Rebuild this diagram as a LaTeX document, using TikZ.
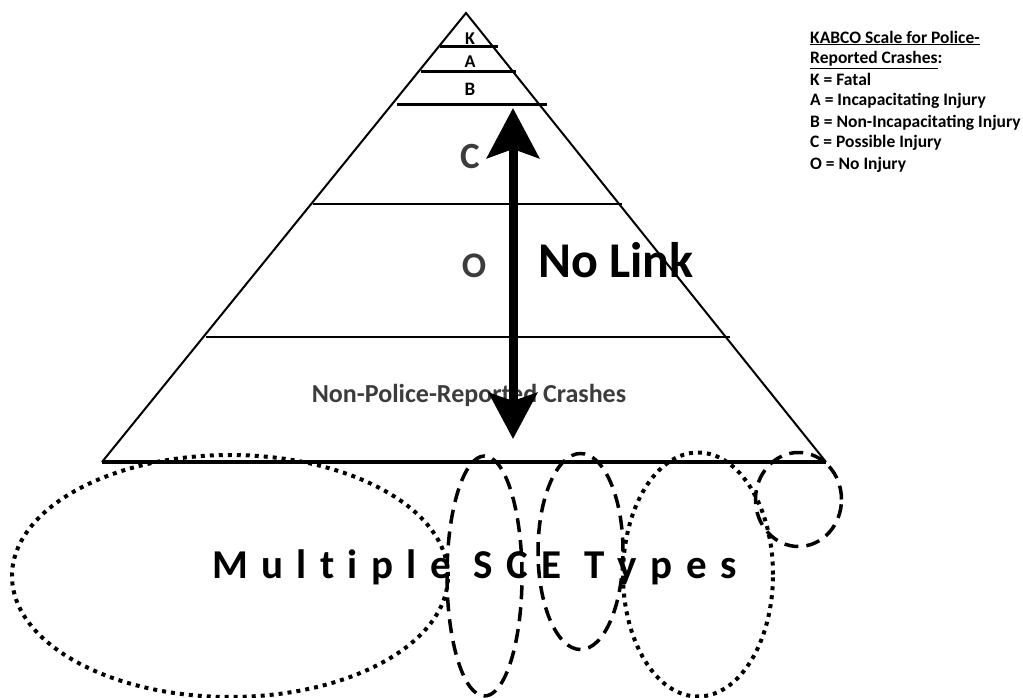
\documentclass[tikz,border=0pt]{standalone}
\usepackage{fontspec}
\setmainfont{Carlito}
\usetikzlibrary{arrows.meta}
\definecolor{txtgray}{HTML}{3C3C3C}
\newcommand{\lsp}{\hspace{13.4pt}}
\begin{document}
\begin{tikzpicture}[x=1pt,y=-1pt,
  side/.style={line width=2pt, line join=miter},
  bandline/.style={line width=3pt},
  thinband/.style={line width=2.4pt},
  baseline/.style={line width=4pt},
  dotline/.style={line width=4pt, dash pattern=on 4pt off 5pt},
  dashline/.style={line width=3.5pt, dash pattern=on 14pt off 8pt},
  lbl/.style={inner sep=0pt, font=\bfseries},
  graylbl/.style={lbl, text=txtgray},
  linkarrow/.style={line width=9pt, {Stealth[length=50pt,width=52pt,inset=9pt]}-{Stealth[length=46pt,width=48pt,inset=8pt]}}
]
\useasboundingbox (0,0) rectangle (1023,698);
% pyramid
\coordinate (apex) at (466,13);
\coordinate (bl) at (102,462);
\coordinate (br) at (826,462);
\draw[side] (bl) -- (apex) -- (br);
\draw[baseline] (bl) -- (br);
% bands
\coordinate (k1) at (440,47); \coordinate (k2) at (498,47);
\coordinate (a1) at (421,72); \coordinate (a2) at (516,72);
\coordinate (b1) at (397,105); \coordinate (b2) at (547,105);
\coordinate (c1) at (313,204); \coordinate (c2) at (622,204);
\coordinate (o1) at (206,337); \coordinate (o2) at (730,337);
\draw[bandline] (k1) -- (k2);
\draw[bandline] (a1) -- (a2);
\draw[bandline] (b1) -- (b2);
\draw[thinband] (c1) -- (c2);
\draw[thinband] (o1) -- (o2);
% level labels
\node[lbl, anchor=base, font=\bfseries\fontsize{18}{20}\selectfont] (K) at (470,45) {K};
\node[lbl, anchor=base, font=\bfseries\fontsize{18}{20}\selectfont] (A) at (470,68) {A};
\node[lbl, anchor=base, font=\bfseries\fontsize{19}{21}\selectfont] (B) at (470,96) {B};
\node[graylbl, anchor=base, font=\bfseries\fontsize{37}{40}\selectfont] (C) at (470,168) {C};
\node[graylbl, anchor=base, font=\bfseries\fontsize{36}{40}\selectfont] (O) at (474,277) {O};
\node[graylbl, anchor=base, font=\bfseries\fontsize{26}{30}\selectfont] (npr) at (469,402) {Non-Police-Reported Crashes};
% arrow
\coordinate (atop) at (513,108);
\coordinate (abot) at (513,439);
\draw[linkarrow] (atop) -- (abot);
\node[lbl, anchor=base west, font=\bfseries\fontsize{50}{55}\selectfont] (nolink) at (538,277) {No Link};
% legend
\node[lbl, anchor=base west, align=left, font=\bfseries\fontsize{17.5}{21}\selectfont] (legend) at (810,169)
  {\underline{KABCO Scale for Police-}\\
   \underline{Reported Crashes}:\\
   K = Fatal\\
   A = Incapacitating Injury\\
   B = Non-Incapacitating Injury\\
   C = Possible Injury\\
   O = No Injury};
% SCE ellipses
\coordinate (e1) at (230,576);
\coordinate (e2) at (484.5,576);
\coordinate (e3) at (580.5,551.5);
\coordinate (e4) at (698,574.5);
\coordinate (e5) at (798.5,499.5);
\draw[dotline] (e1) ellipse [x radius=218pt, y radius=121pt];
\draw[dashline] (e2) ellipse [x radius=37.5pt, y radius=120pt];
\draw[dashline] (e3) ellipse [x radius=42.5pt, y radius=98pt];
\draw[dotline] (e4) ellipse [x radius=75pt, y radius=122pt];
\draw[dashline] (e5) ellipse [x radius=43pt, y radius=47pt];
\node[lbl, anchor=base west, font=\bfseries\fontsize{41}{44}\selectfont] (sce) at (212,578)
  {M\lsp u\lsp l\lsp t\lsp i\lsp p\lsp l\lsp e\ \lsp S\lsp C\lsp E\ \lsp T\lsp y\lsp p\lsp e\lsp s};
\end{tikzpicture}
\end{document}
